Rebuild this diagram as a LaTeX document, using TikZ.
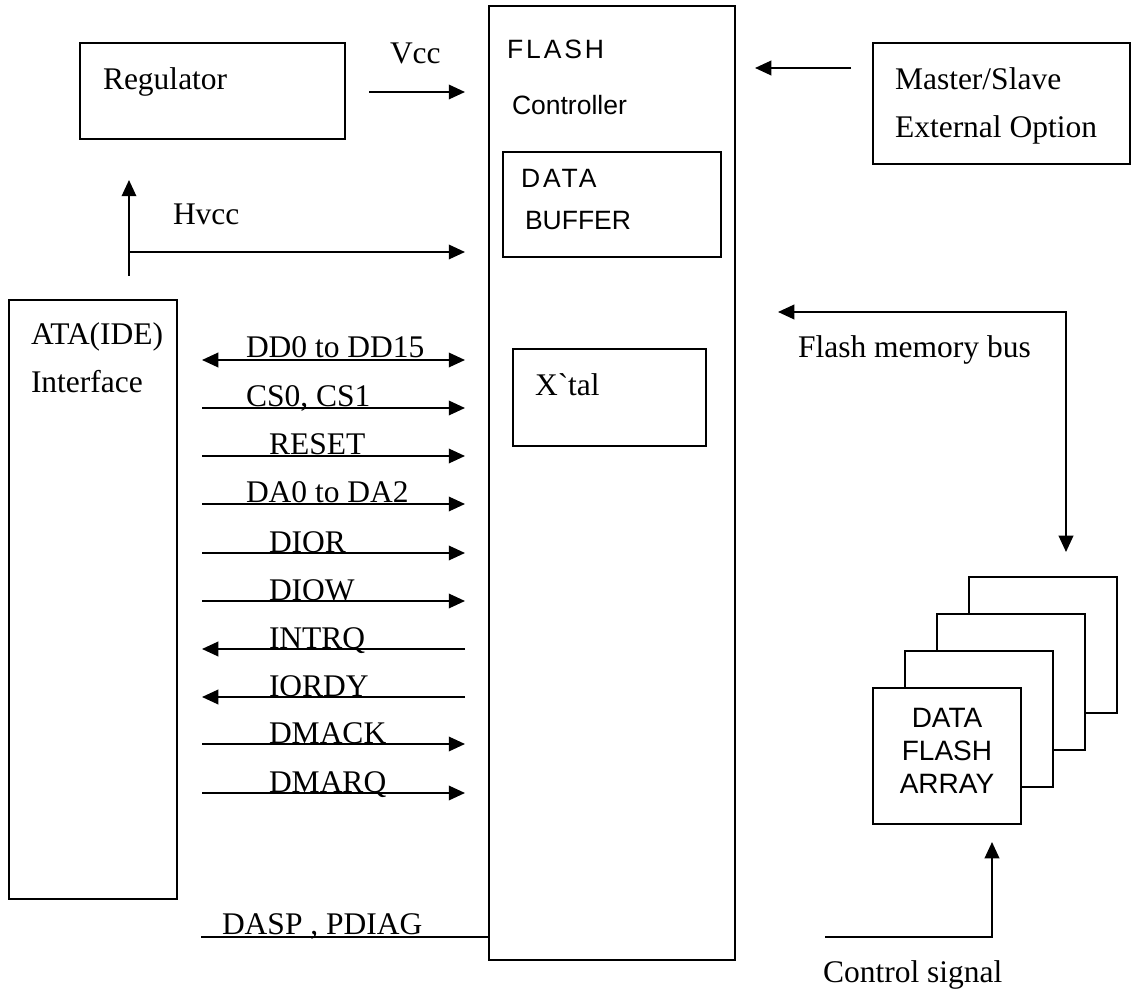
\documentclass[tikz,border=0pt]{standalone}
\usepackage{fontspec}
\setmainfont{Liberation Serif}
\newfontfamily\arialfont{Liberation Sans}
\newfontfamily\arialwide[LetterSpace=11]{Liberation Sans}
\newfontfamily\rawserif[Ligatures=TeXOff]{Liberation Serif}
\usetikzlibrary{arrows.meta,fit}

\begin{document}
\begin{tikzpicture}[x=0.4pt,y=-0.4pt,line width=0.8pt,
  >={Triangle[length=6.5pt,width=5.8pt]},
  blk/.style={draw,inner sep=0pt},
  pg/.style={draw,fill=white},
  txt/.style={anchor=base west,inner sep=0pt,font=\fontsize{12.6}{15}\selectfont},
  sf/.style={txt,font=\arialfont\fontsize{10.6}{13}\selectfont},
  sfw/.style={txt,font=\arialwide\fontsize{10.6}{13}\selectfont}]
  \useasboundingbox (0,0) rectangle (1133,991);

  % blocks
  \node[blk,fit={(80,43) (345,139)}] (reg) {};
  \node[blk,fit={(489,6) (735,960)}] (ctrl) {};
  \node[blk,fit={(503,152) (721,257)}] (buf) {};
  \node[blk,fit={(513,349) (706,446)}] (xtal) {};
  \node[blk,fit={(873,43) (1130,164)}] (ms) {};
  \node[blk,fit={(9,300) (177,899)}] (ata) {};
  \foreach \k in {3,2,1,0}{
    \draw[pg] (873+32*\k,688-37*\k) rectangle ++(148,136);
  }
  \node[blk,fit={(873,688) (1021,824)}] (arr) {};

  \node[txt] (regt) at (102,90) {Regulator};
  \node[sfw] (fl) at (506,59) {FLASH};
  \node[sf] (ct) at (511,115) {Controller};
  \node[sfw] (bf1) at (520,188) {DATA};
  \node[sf] (bf2) at (524,230) {BUFFER};
  \node[txt] (xt) at (534,396) {\rawserif X`tal};
  \node[txt] (ms1) at (894,90) {Master/Slave};
  \node[txt] (ms2) at (894,138) {External Option};
  \node[txt] (at1) at (30,345) {ATA(IDE)};
  \node[txt] (at2) at (30,393) {Interface};
  \node[align=center,inner sep=0pt,font=\arialfont\fontsize{11.2}{13.3}\selectfont] (arrt) at (947,751) {DATA\\FLASH\\ARRAY};

  % power
  \coordinate (vcca) at (369,92);
  \coordinate (vccb) at (465,92);
  \draw[->] (vcca) -- (vccb);
  \node[txt] (vcct) at (389,64) {Vcc};
  \coordinate (hv0) at (129,276);
  \coordinate (hv1) at (129,180);
  \coordinate (hvj) at (129,252);
  \coordinate (hvr) at (465,252);
  \draw[->] (hv0) -- (hv1);
  \draw[->] (hvj) -- (hvr);
  \node[txt] (hvt) at (172,225) {Hvcc};

  % option and flash side
  \coordinate (msa) at (851,68);
  \coordinate (msb) at (755,68);
  \draw[->] (msa) -- (msb);
  \coordinate (busl) at (778,312);
  \coordinate (busc) at (1066,312);
  \coordinate (busd) at (1066,552);
  \draw[<->] (busl) -- (busc) -- (busd);
  \node[txt] (bust) at (797,358) {Flash memory bus};
  \coordinate (csa) at (825,937);
  \coordinate (csc) at (992,937);
  \coordinate (csb) at (992,842);
  \draw[->] (csa) -- (csc) -- (csb);
  \node[txt] (cst) at (822,982) {Control signal};

  % ATA bus
  \coordinate (a360) at (202,360);
  \coordinate (b360) at (465,360);
  \draw[<->] (a360) -- (b360);
  \node[txt] (t360) at (245,358) {DD0 to DD15};
  \foreach \t/\y/\xa/\xb/\tx in {{CS0, CS1}/408/202/465/245, RESET/456/202/465/268,
      DA0 to DA2/504/202/465/245, DIOR/553/202/465/268, DIOW/601/202/465/268,
      INTRQ/649/465/202/268, IORDY/697/465/202/268, DMACK/744/202/465/268,
      DMARQ/793/202/465/268}{
    \coordinate (a\y) at (\xa,\y);
    \coordinate (b\y) at (\xb,\y);
    \draw[->] (a\y) -- (b\y);
    \node[txt] (t\y) at (\tx,\y-1) {\t};
  }
  \coordinate (dasp) at (201,937);
  \draw (dasp) -- (ctrl.west |- dasp);
  \node[txt] (daspt) at (221,934) {DASP , PDIAG};
\end{tikzpicture}
\end{document}
